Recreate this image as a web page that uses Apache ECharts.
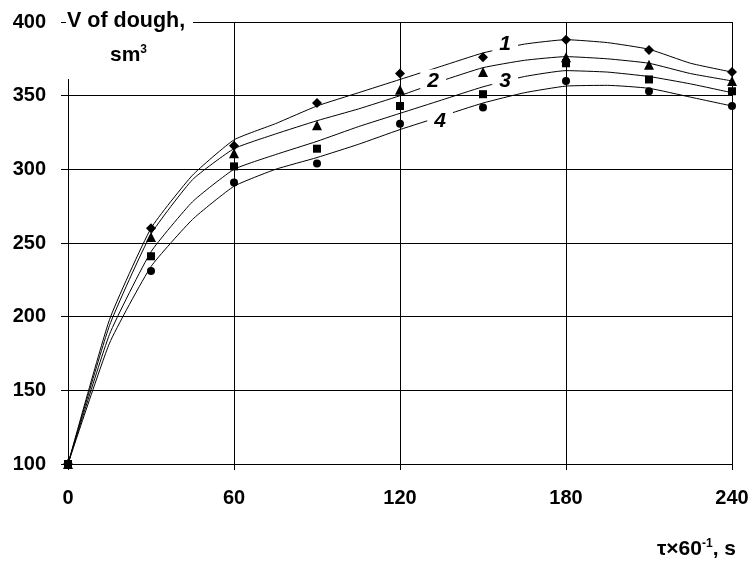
<!DOCTYPE html>
<html>
<head>
<meta charset="utf-8">
<script src="https://cdn.jsdelivr.net/npm/echarts@6/dist/echarts.min.js"></script>
<style>
html,body{margin:0;padding:0;background:#fff;}
#c{width:754px;height:563px;}
</style>
</head>
<body>
<div id="c"></div>
<script>
// Fitted curves
const curveX = [0, 15, 30, 45, 60, 75, 90, 105, 120, 135, 150, 165, 180, 195, 210, 225, 240];
const curve1 = [100, 198, 260, 296, 320, 331, 343, 352, 361, 370, 379, 385, 388, 386, 381.5, 372, 366];
const curve2 = [100, 194, 256, 293, 314, 324, 333, 341, 350, 360, 369, 374, 376.5, 375, 372, 365, 360];
const curve3 = [100, 188, 244, 278, 300, 310, 319, 329, 338, 347, 356, 363, 367, 366, 363, 358, 352];
const curve4 = [100, 182, 234, 266, 288.5, 300, 308, 317, 327, 336, 345, 352, 356.5, 357, 355, 349, 343];

// Measured points
const pointX = [0, 30, 60, 90, 120, 150, 180, 210, 240];
const points1 = [100, 260, 316, 345, 365, 376, 388, 381, 366];
const points2 = [100, 254, 311, 330, 354, 366, 376, 371, 360];
const points3 = [100, 241, 302, 314, 343, 351, 372, 361, 353];
const points4 = [100, 231, 291, 304, 331, 342, 360, 353, 343];

// Curve labels
const curveNames = ['1', '2', '3', '4'];
const labelX = [158, 132, 158, 134.5];
const labelY = [385, 360, 360, 332.5];

// Axis ticks
const xTicks = [0, 60, 120, 180, 240];
const yTicks = [100, 150, 200, 250, 300, 350, 400];

const FONT = '"Liberation Sans", Arial, sans-serif';
const curves = [curve1, curve2, curve3, curve4];
const points = [points1, points2, points3, points4];
const symbols = ['diamond', 'triangle', 'rect', 'circle'];
const symSizes = [10, 10, 8, 8];

const series = [];
curves.forEach((c, i) => {
  series.push({
    type: 'line', name: 'curve' + curveNames[i],
    data: curveX.map((x, k) => [x, c[k]]),
    symbol: 'none', smooth: 0.15,
    lineStyle: { color: '#000', width: 1 },
    z: 2, silent: true
  });
});
points.forEach((p, i) => {
  series.push({
    type: 'scatter', name: 'pts' + curveNames[i],
    data: pointX.map((x, k) => [x, p[k]]),
    symbol: symbols[i], symbolSize: symSizes[i],
    itemStyle: { color: '#000', opacity: 1 },
    z: 4
  });
});
series.push({
  type: 'scatter', name: 'labels',
  data: curveNames.map((n, i) => ({ value: [labelX[i], labelY[i]], name: n })),
  symbolSize: 1,
  itemStyle: { color: '#fff', opacity: 1 },
  z: 5,
  label: {
    show: true, position: 'inside', opacity: 1,
    formatter: p => p.name,
    color: '#000', fontFamily: FONT, fontSize: 21, fontWeight: 'bold', fontStyle: 'italic',
    textBorderWidth: 0,
    backgroundColor: '#fff', padding: [1, 7, 1, 7]
  }
});

const chart = echarts.init(document.getElementById('c'), null, { renderer: 'canvas' });
chart.setOption({
  animation: false,
  backgroundColor: '#fff',
  grid: { left: 68, right: 22, top: 22, bottom: 99, containLabel: false },
  xAxis: {
    type: 'value', min: xTicks[0], max: xTicks[xTicks.length - 1], interval: 60,
    axisLine: { show: true, onZero: false, lineStyle: { color: '#000', width: 1 } },
    axisTick: { show: true, length: 6, inside: false, lineStyle: { color: '#000' } },
    axisLabel: { color: '#000', fontFamily: FONT, fontSize: 20, fontWeight: 'bold', margin: 24 },
    splitLine: { show: true, lineStyle: { color: '#000', width: 1 } }
  },
  yAxis: {
    type: 'value', min: yTicks[0], max: yTicks[yTicks.length - 1], interval: 50,
    axisLine: { show: true, onZero: false, lineStyle: { color: '#000', width: 1 } },
    axisTick: { show: true, length: 7, inside: false, lineStyle: { color: '#000' } },
    axisLabel: { color: '#000', fontFamily: FONT, fontSize: 20, fontWeight: 'bold', margin: 22 },
    splitLine: { show: true, lineStyle: { color: '#000', width: 1 } }
  },
  graphic: [
    { type: 'rect', left: 66, top: 9, shape: { width: 127, height: 70 }, style: { fill: '#fff' }, z: 10 },
    {
      type: 'text', left: 67, top: 10, z: 11,
      style: {
        text: 'V of dough,', fontFamily: FONT, fontSize: 21.5, fontWeight: 'bold', fill: '#000'
      }
    },
    {
      type: 'text', left: 110, top: 44, z: 11,
      style: {
        text: '{b|sm}{s|3}',
        rich: {
          b: { fontFamily: FONT, fontSize: 21, fontWeight: 'bold', fill: '#000', color: '#000', lineHeight: 22, verticalAlign: 'bottom' },
          s: { fontFamily: FONT, fontSize: 12, fontWeight: 'bold', fill: '#000', color: '#000', lineHeight: 22, verticalAlign: 'top' }
        }
      }
    },
    {
      type: 'text', right: 18, top: 538, z: 11,
      style: {
        text: '{b|τ×60}{s|-1}{b|, s}',
        rich: {
          b: { fontFamily: FONT, fontSize: 21, fontWeight: 'bold', fill: '#000', color: '#000', lineHeight: 22, verticalAlign: 'bottom' },
          s: { fontFamily: FONT, fontSize: 12, fontWeight: 'bold', fill: '#000', color: '#000', lineHeight: 22, verticalAlign: 'top' }
        }
      }
    }
  ],
  series: series
});
</script>
</body>
</html>
